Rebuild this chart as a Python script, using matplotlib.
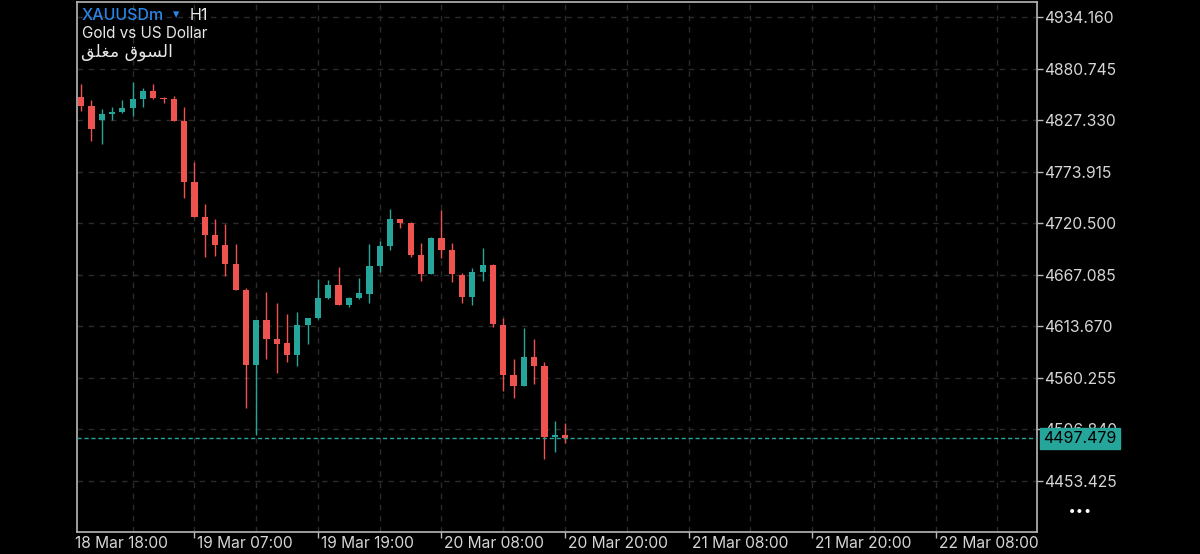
import matplotlib
matplotlib.use("Agg")
import matplotlib.pyplot as plt
import numpy as np

# ---------------- data ----------------
bar_index = list(range(1, 49))   # hourly bars; index 0 = 18 Mar 18:00
opens = [4851.6, 4841.9, 4827.4, 4833.4, 4835.7, 4840.2, 4849.2, 4857.5, 4849.9, 4849.2,
         4826.7, 4762.9, 4727.3, 4708.3, 4697.9, 4677.9, 4651.3, 4573.6, 4620.2, 4600.5,
         4596.1, 4583.9, 4615.0, 4622.0, 4642.7, 4656.5, 4635.8, 4642.7, 4647.5, 4676.5,
         4697.2, 4724.9, 4721.0, 4687.6, 4667.9, 4704.9, 4692.7, 4666.8, 4644.4, 4670.3,
         4677.2, 4615.0, 4563.2, 4552.1, 4582.2, 4572.9, 4499.3, 4501.1]
highs = [4864.4, 4848.2, 4838.5, 4841.2, 4847.9, 4866.5, 4860.9, 4864.8, 4851.6, 4852.3,
         4841.2, 4783.6, 4740.1, 4724.9, 4719.7, 4698.7, 4653.1, 4620.6, 4648.9, 4637.5,
         4626.1, 4628.2, 4622.4, 4662.7, 4661.7, 4675.4, 4644.4, 4663.4, 4698.7, 4702.4,
         4734.9, 4725.3, 4721.4, 4700.3, 4706.5, 4734.2, 4699.7, 4668.6, 4673.8, 4695.1,
         4677.9, 4622.0, 4579.8, 4612.2, 4600.5, 4577.0, 4515.9, 4513.8]
lows = [4837.1, 4806.0, 4802.6, 4827.4, 4834.4, 4831.9, 4840.6, 4849.0, 4844.7, 4826.0,
        4746.3, 4726.8, 4685.8, 4686.5, 4665.8, 4650.8, 4529.3, 4501.1, 4579.8, 4565.0,
        4576.4, 4572.9, 4595.0, 4621.5, 4642.2, 4635.3, 4634.0, 4642.2, 4638.1, 4670.3,
        4692.7, 4715.2, 4685.2, 4660.6, 4667.4, 4684.1, 4659.3, 4637.5, 4635.8, 4660.9,
        4613.3, 4546.6, 4539.7, 4551.6, 4553.6, 4476.2, 4483.7, 4492.4]
closes = [4842.3, 4817.8, 4833.4, 4835.4, 4840.2, 4849.2, 4857.5, 4849.9, 4848.9, 4826.7,
          4762.9, 4727.3, 4708.3, 4697.9, 4678.2, 4651.3, 4573.6, 4620.2, 4600.5, 4595.7,
          4583.9, 4615.0, 4622.0, 4642.7, 4656.5, 4635.8, 4642.7, 4647.9, 4676.5, 4697.2,
          4724.9, 4721.0, 4687.6, 4667.9, 4705.5, 4692.7, 4667.6, 4644.4, 4670.3, 4677.2,
          4615.8, 4563.2, 4552.1, 4582.2, 4572.9, 4499.3, 4501.1, 4497.479]
current_price = 4497.479

y_ticks = [4453.425, 4506.840, 4560.255, 4613.670, 4667.085, 4720.500, 4773.915,
           4827.330, 4880.745, 4934.160]
x_tick_index = [0, 12, 24, 36, 48, 60, 72, 84]
x_tick_labels = ["18 Mar 18:00", "19 Mar 07:00", "19 Mar 19:00", "20 Mar 08:00",
                 "20 Mar 20:00", "21 Mar 08:00", "21 Mar 20:00", "22 Mar 08:00"]

symbol = "XAUUSDm"
timeframe = "H1"
description = "Gold vs US Dollar"
# "السوق مغلق" written with Arabic presentation forms in visual order
market_status = "\uFED6\uFEE0\uFED0\uFEE3 \uFED5\uFEEE\uFEB4\uFEDF\uFE8D"

# ---------------- style ----------------
BG = "#000000"
UP = "#26a69a"
DOWN = "#ef5350"
GRID = "#2a2a2a"
FRAME = "#b8b8b8"
TXT = "#d6d6d6"
FONT = ["Inter", "DejaVu Sans"]

plt.rcParams["font.family"] = FONT

W, H = 1200, 554
fig = plt.figure(figsize=(W / 100, H / 100), dpi=100, facecolor=BG)
L, R, T, B = 77, 1037, 2, 532
ax = fig.add_axes([L / W, 1 - B / H, (R - L) / W, (B - T) / H], facecolor=BG)

ax.set_ylim(4400.5, 4949.7)
ax.set_xlim(0.593, 93.85)

# grid
for yv in y_ticks:
    ax.axhline(yv, color=GRID, lw=1, ls=(0, (4, 4)), zorder=0)
for xv in range(6, 94, 6):
    ax.axvline(xv, color=GRID, lw=1, ls=(0, (4, 4)), zorder=0)

# candles
o = np.array(opens); c = np.array(closes); h = np.array(highs); lo = np.array(lows)
xs = np.array(bar_index)
up = c >= o
cols = np.where(up, UP, DOWN)
ax.vlines(xs, lo, h, colors=cols, lw=1, zorder=2)
bottoms = np.minimum(o, c)
heights = np.maximum(np.abs(c - o), 1.2)
ax.bar(xs, heights, bottom=bottoms, width=0.6, color=cols, edgecolor=cols, lw=0, zorder=3)

# current price line
ax.axhline(current_price, color=UP, lw=1, ls=(0, (3, 2)), zorder=4)

# frame
for s in ax.spines.values():
    s.set_color(FRAME)
    s.set_linewidth(1.2)

# y axis on the right
ax.yaxis.tick_right()
ax.set_yticks(y_ticks)
ax.set_yticklabels([f"{v:.3f}" for v in y_ticks])
ax.tick_params(axis="y", colors=FRAME, labelcolor=TXT, labelsize=11.3, length=4, width=1, pad=1)

# x axis
ax.set_xticks(x_tick_index[1:])
ax.set_xticklabels([])
ax.tick_params(axis="x", colors=FRAME, length=4, width=1, direction="out")
px_per_bar = (R - L) / (93.85 - 0.593)
for i, lab in zip(x_tick_index, x_tick_labels):
    xp = L + (i - 0.593) * px_per_bar + 3
    xp = max(xp, 75)
    fig.text(xp / W, 1 - 543 / H, lab, color=TXT, fontsize=11.2, ha="left", va="center")

# current price label box
yp = T + (4949.7 - current_price) / (4949.7 - 4400.5) * (B - T)
fig.text(1043 / W, 1 - yp / H, f"{current_price:.3f}", color="#000000", fontsize=11.5,
         ha="left", va="center", zorder=10,
         bbox=dict(boxstyle="square,pad=0.2", facecolor=UP, edgecolor=UP))

# header texts
fig.text(82 / W, 1 - 15 / H, symbol, color="#2a85e6", fontsize=11.5, ha="left", va="center",
         weight="medium")
fig.text(173 / W, 1 - 15 / H, "\u25BE", color="#2a85e6", fontsize=9, ha="left", va="center",
         family=["DejaVu Sans"])
fig.text(190 / W, 1 - 15 / H, timeframe, color="#e8e8e8", fontsize=11.5, ha="left", va="center")
fig.text(82 / W, 1 - 34 / H, description, color="#e8e8e8", fontsize=11, ha="left", va="center")
fig.text(81 / W, 1 - 52 / H, market_status, color="#e8e8e8", fontsize=12.5, ha="left", va="center",
         family=["DejaVu Sans"])

# more dots
fig.text(1080 / W, 1 - 512 / H, "\u2022\u2022\u2022", color="#ffffff", fontsize=10,
         ha="center", va="center", family=["DejaVu Sans"])

fig.savefig("out.png", dpi=100, facecolor=BG)
